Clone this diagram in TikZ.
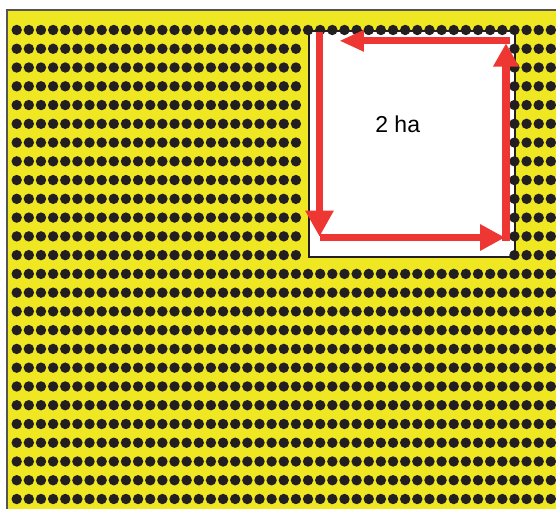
\documentclass[tikz,border=0pt]{standalone}
\usepackage{fontspec}
\setmainfont{Liberation Sans}
\usetikzlibrary{arrows.meta}
\definecolor{fieldyellow}{RGB}{238,231,34}
\definecolor{dotblack}{RGB}{35,31,32}
\definecolor{arrowred}{RGB}{238,54,50}
\definecolor{framegrey}{RGB}{85,85,85}
\begin{document}
\begin{tikzpicture}[x=0.75pt,y=-0.75pt,
  fieldframe/.style={fill=fieldyellow,draw=framegrey,line width=1.5pt},
  plotbox/.style={fill=white,draw=dotblack,line width=1.1pt},
  dotmark/.style={fill=dotblack},
  redarrow/.style={draw=arrowred,line width=5.3pt},
  labeltext/.style={font=\fontsize{17.25}{20}\selectfont,anchor=base,inner sep=0pt}]
\useasboundingbox (0,0) rectangle (556,508);
\clip (0,0) rectangle (556,508);
\draw[fieldframe] (7,10) rectangle (570,520);
\draw[plotbox] (309,31) rectangle (515,257);
\foreach \r in {0,...,25}{
  \foreach \c in {0,...,44}{
    \pgfmathtruncatemacro{\hideflag}{(\r>0)*(\r<13)*(\c>23)*(\c<41)}
    \ifnum\hideflag=0
      \fill[dotmark] (16.7+12.14*\c, 30+18.76*\r) circle[radius=3.9pt];
    \fi
  }
}
\coordinate (lt) at (319.5,31.7);
\coordinate (lb) at (319.5,236.7);
\coordinate (bl) at (319.5,237.5);
\coordinate (br) at (505,237.5);
\coordinate (rb) at (506,240.7);
\coordinate (rt) at (506,43.3);
\coordinate (tr) at (510,40.8);
\coordinate (tl) at (339.3,40.8);
\draw[redarrow,-{Triangle[length=19.5pt,width=20pt]}] (lt) -- (lb);
\draw[redarrow,-{Triangle[length=18.75pt,width=18.75pt]}] (bl) -- (br);
\draw[redarrow,-{Triangle[length=17.5pt,width=18.3pt]}] (rb) -- (rt);
\draw[redarrow,-{Triangle[length=18.5pt,width=15pt]}] (tr) -- (tl);
\node[labeltext] (label) at (397.7,132.3) {2 ha};
\end{tikzpicture}
\end{document}
